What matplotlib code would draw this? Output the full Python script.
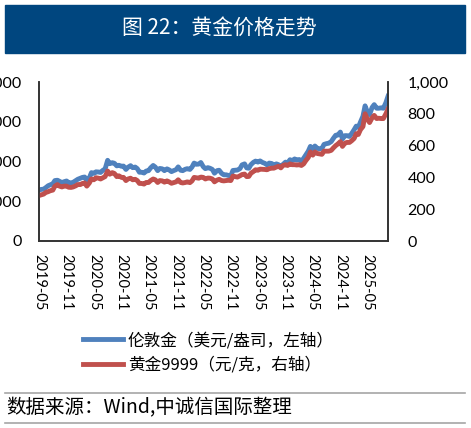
import matplotlib
matplotlib.use("Agg")
import matplotlib.pyplot as plt
import matplotlib.dates as mdates
from matplotlib.patches import Rectangle
from matplotlib.lines import Line2D
from matplotlib.ticker import FuncFormatter
import pandas as pd

plt.rcParams['font.family'] = ['Lato', 'Noto Sans CJK SC', 'DejaVu Sans']

# semi-monthly observations, 2019-05-01 .. 2025-09-15
dates = pd.date_range('2019-05-01', '2025-09-15', freq='SMS')

# London gold, USD/oz (left axis)
london_gold = [
    1281, 1297, 1305, 1342, 1390, 1413, 1440, 1520, 1529, 1500, 1470, 1490, 1510, 1467, 1463, 1477,
    1520, 1553, 1578, 1600, 1610, 1515, 1590, 1720, 1700, 1740, 1735, 1725, 1780, 1810, 2030, 1945,
    1970, 1955, 1890, 1905, 1880, 1885, 1800, 1855,
    1895, 1845, 1860, 1820, 1730, 1730, 1710, 1760, 1770, 1840, 1900, 1860, 1770, 1825, 1815, 1770,
    1815, 1790, 1745, 1770, 1795, 1865, 1780, 1770,
    1805, 1820, 1800, 1860, 1960, 1930, 1935, 1975, 1870, 1820, 1845, 1830, 1800, 1705, 1770, 1780,
    1700, 1665, 1665, 1650, 1640, 1775, 1780, 1785,
    1820, 1915, 1940, 1840, 1830, 1920, 1980, 2010, 1985, 2015, 1975, 1955, 1915, 1960, 1950, 1905,
    1940, 1920, 1860, 1925, 1985, 1960, 2045, 2020,
    2065, 2035, 2050, 2000, 2080, 2160, 2260, 2380, 2300, 2390, 2330, 2320, 2330, 2430, 2450, 2460,
    2500, 2580, 2660, 2665, 2740, 2565, 2650, 2650,
    2630, 2700, 2800, 2890, 2860, 2990, 3140, 3400, 3240, 3180, 3360, 3430, 3340, 3340, 3350, 3340,
    3480, 3640,
]

# SGE Au9999, CNY/g (right axis)
au9999 = [
    286, 290, 295, 305, 310, 316, 320, 345, 355, 345, 340, 345, 345, 338, 337, 340,
    347, 355, 355, 362, 365, 345, 365, 390, 385, 398, 395, 390, 398, 405, 440, 420,
    430, 425, 405, 410, 400, 400, 380, 390,
    395, 385, 388, 380, 362, 362, 358, 368, 368, 380, 390, 385, 368, 380, 378, 370,
    378, 372, 363, 367, 372, 385, 368, 365,
    368, 372, 367, 378, 400, 398, 395, 402, 400, 390, 396, 395, 390, 372, 383, 388,
    380, 378, 380, 382, 380, 408, 405, 402,
    410, 418, 421, 405, 406, 426, 437, 448, 445, 452, 451, 450, 448, 455, 458, 458,
    465, 470, 460, 475, 480, 475, 485, 480,
    480, 478, 480, 475, 485, 505, 525, 560, 540, 560, 550, 548, 545, 565, 565, 565,
    570, 585, 600, 610, 625, 595, 615, 620,
    620, 630, 645, 675, 670, 700, 720, 800, 765, 745, 775, 790, 770, 772, 770, 770,
    800, 830,
]

labels = ['伦敦金（美元/盎司，左轴）', '黄金9999（元/克，右轴）']
title = '图 22：黄金价格走势'
source = '数据来源：Wind,中诚信国际整理'

W, H = 471, 428
fig = plt.figure(figsize=(W / 100, H / 100), dpi=100)

# title banner
fig.patches.append(Rectangle((5 / W, 1 - 53 / H), 460 / W, 48 / H,
                             transform=fig.transFigure, color='#00467F', zorder=0))
fig.text(219 / W, 1 - 29 / H, title, color='white', fontsize=15,
         ha='center', va='center', family=['Noto Sans CJK SC', 'DejaVu Sans'])

ax = fig.add_axes([39 / W, 1 - 241 / H, 349 / W, 159 / H])
ax2 = ax.twinx()

l1, = ax.plot(dates, london_gold, color='#4F81BD', lw=3.5, solid_joinstyle='round')
l2, = ax2.plot(dates, au9999, color='#C0504D', lw=3.5, solid_joinstyle='round')

ax.set_ylim(0, 4000)
ax.set_yticks([0, 1000, 2000, 3000, 4000])
ax2.set_ylim(0, 1000)
ax2.set_yticks([0, 200, 400, 600, 800, 1000])
fmt = FuncFormatter(lambda v, p: f'{v:,.0f}')
ax.yaxis.set_major_formatter(fmt)
ax2.yaxis.set_major_formatter(fmt)

ax.set_xlim(pd.Timestamp('2019-05-01'), pd.Timestamp('2025-09-15'))
ax.set_xticks(pd.date_range('2019-05-01', '2025-05-01', freq='6MS'))
ax.xaxis.set_major_formatter(mdates.DateFormatter('%Y-%m'))
for lab in ax.get_xticklabels():
    lab.set_rotation(-90)

for a in (ax, ax2):
    a.spines['top'].set_visible(False)
    for s in ('left', 'right', 'bottom'):
        a.spines[s].set_color('#333333')
        a.spines[s].set_linewidth(1.2)
ax.tick_params(axis='y', length=0, pad=12.5, labelsize=11.5)
ax2.tick_params(axis='y', length=0, pad=14, labelsize=11.5)
ax.tick_params(axis='x', length=0, pad=9, labelsize=10.5)

fig.legend([l1, l2], labels, loc='upper left', bbox_to_anchor=(83 / W, 1 - 332 / H),
           frameon=False, borderpad=0, borderaxespad=0, handlelength=2.4,
           handletextpad=0.3, labelspacing=0.45,
           prop={'family': ['Noto Sans CJK SC', 'DejaVu Sans'], 'size': 12})

# source lines and text
fig.lines.append(Line2D([5 / W, 465 / W], [1 - 393 / H, 1 - 393 / H],
                        transform=fig.transFigure, color='#A6A6A6', lw=1.2))
fig.lines.append(Line2D([5 / W, 465 / W], [1 - 423 / H, 1 - 423 / H],
                        transform=fig.transFigure, color='#A6A6A6', lw=1.2))
fig.text(6 / W, 1 - 408 / H, source, fontsize=14, ha='left', va='center',
         family=['Noto Sans CJK SC', 'DejaVu Sans'])

fig.savefig('out.png', dpi=100)
